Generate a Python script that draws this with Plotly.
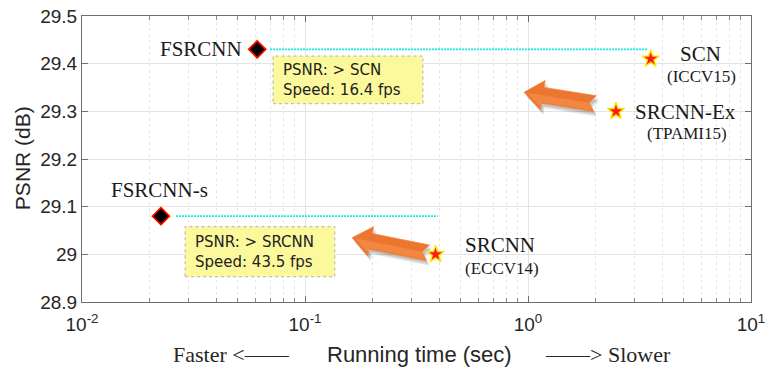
import math
import plotly.graph_objects as go

# ---------------- data ----------------
methods = ["FSRCNN", "SCN", "SRCNN-Ex", "FSRCNN-s", "SRCNN"]
venues = ["", "(ICCV15)", "(TPAMI15)", "", "(ECCV14)"]
run_time = [0.061, 3.55, 2.48, 0.0226, 0.385]
psnr = [29.43, 29.41, 29.30, 29.08, 29.00]
is_ours = [True, False, False, True, False]

# dotted comparison lines (start time, end time, psnr level)
cmp_start = [0.0697, 0.0264]
cmp_end = [3.45, 0.394]
cmp_level = [29.43, 29.08]

# yellow notes
note_text = ["PSNR: > SCN<br>Speed: 16.4 fps", "PSNR: > SRCNN<br>Speed: 43.5 fps"]
note_x0 = [0.0719, 0.0290]
note_x1 = [0.338, 0.136]
note_y0 = [29.316, 28.953]
note_y1 = [29.416, 29.058]

# orange arrows (tail -> tip) in data units
arrow_tail_x = [2.0, 0.356]
arrow_tail_y = [29.316, 29.003]
arrow_tip_x = [0.96, 0.1626]
arrow_tip_y = [29.34, 29.035]

x_ticks = [0.01, 0.1, 1, 10]
x_tick_text = ["10<sup>-2</sup>", "10<sup>-1</sup>", "10<sup>0</sup>", "10<sup>1</sup>"]
x_minor_ticks = [m * 10 ** k for k in (-2, -1, 0) for m in range(2, 10)]
y_ticks = [28.9, 29.0, 29.1, 29.2, 29.3, 29.4, 29.5]
y_tick_text = ["28.9", "29", "29.1", "29.2", "29.3", "29.4", "29.5"]

# ---------------- layout constants ----------------
W, H = 767, 369
ML, MR, MT, MB = 82, 16, 16, 67
PW, PH = W - ML - MR, H - MT - MB
XR = (-2, 1)
YR = (28.9, 29.5)


def to_px(x, y):
    px = ML + (math.log10(x) - XR[0]) / (XR[1] - XR[0]) * PW
    py = MT + (YR[1] - y) / (YR[1] - YR[0]) * PH
    return px, py


def from_px(px, py):
    x = 10 ** (XR[0] + (px - ML) / PW * (XR[1] - XR[0]))
    y = YR[1] - (py - MT) / PH * (YR[1] - YR[0])
    return x, y


def arrow_polygon(tx, ty, hx, hy, dx=0.0, dy=0.0, scale=1.0, upper_only=False):
    p0 = to_px(tx, ty)
    p1 = to_px(hx, hy)
    L = math.hypot(p1[0] - p0[0], p1[1] - p0[1])
    ux, uy = (p1[0] - p0[0]) / L, (p1[1] - p0[1]) / L
    nx, ny = -uy, ux
    h, hw, sw, nd = 19, 15 * scale, 8 * scale, 6
    if upper_only:
        local = [(L - 3, 0), (L - h, -hw + 3), (L - h, -sw + 1), (2, -sw + 1),
                 (nd, 0), (L - 3, 0)]
    else:
        local = [(L, 0), (L - h, hw), (L - h, sw), (0, sw), (nd, 0),
                 (0, -sw), (L - h, -sw), (L - h, -hw), (L, 0)]
    xs, ys = [], []
    for a, b in local:
        px = p0[0] + a * ux + b * nx + dx
        py = p0[1] + a * uy + b * ny + dy
        x, y = from_px(px, py)
        xs.append(x)
        ys.append(y)
    return xs, ys


fig = go.Figure()

# comparison lines
for s, e, lv in zip(cmp_start, cmp_end, cmp_level):
    fig.add_trace(go.Scatter(x=[s, e], y=[lv, lv], mode="lines",
                             line=dict(color="#14E8E0", width=1.7, dash="2px,1px"),
                             hoverinfo="skip", showlegend=False))

# arrows (shadow + body + light highlight)
for tx, ty, hx, hy in zip(arrow_tail_x, arrow_tail_y, arrow_tip_x, arrow_tip_y):
    for off, col in [((3, 5), "rgba(0,0,0,0.10)"), ((2, 3), "rgba(0,0,0,0.15)")]:
        xs, ys = arrow_polygon(tx, ty, hx, hy, *off)
        fig.add_trace(go.Scatter(x=xs, y=ys, mode="lines", fill="toself",
                                 fillcolor=col, line=dict(width=0),
                                 hoverinfo="skip", showlegend=False))
    xs, ys = arrow_polygon(tx, ty, hx, hy)
    fig.add_trace(go.Scatter(x=xs, y=ys, mode="lines", fill="toself",
                             fillcolor="#EC7530", line=dict(width=0.8, color="#F08A45"),
                             hoverinfo="skip", showlegend=False))
    xs, ys = arrow_polygon(tx, ty, hx, hy, upper_only=True)
    fig.add_trace(go.Scatter(x=xs, y=ys, mode="lines", fill="toself",
                             fillcolor="rgba(248,150,80,0.55)", line=dict(width=0),
                             hoverinfo="skip", showlegend=False))

# points
ox = [t for t, o in zip(run_time, is_ours) if o]
oy = [p for p, o in zip(psnr, is_ours) if o]
sx = [t for t, o in zip(run_time, is_ours) if not o]
sy = [p for p, o in zip(psnr, is_ours) if not o]
fig.add_trace(go.Scatter(x=ox, y=oy, mode="markers",
                         marker=dict(symbol="diamond", size=16, color="rgba(255,230,80,0.5)",
                                     line=dict(width=0)),
                         hoverinfo="skip", showlegend=False))
fig.add_trace(go.Scatter(x=ox, y=oy, mode="markers",
                         marker=dict(symbol="diamond", size=13, color="black",
                                     line=dict(color="red", width=1.6)),
                         showlegend=False))
fig.add_trace(go.Scatter(x=sx, y=sy, mode="markers",
                         marker=dict(symbol="star", size=13, color="#FF1A1A",
                                     line=dict(color="#FFE600", width=1.4)),
                         showlegend=False))

shapes = []
annotations = []

# yellow notes
for t, x0, x1, y0, y1 in zip(note_text, note_x0, note_x1, note_y0, note_y1):
    shapes.append(dict(type="rect", xref="x", yref="y", x0=x0, x1=x1, y0=y0, y1=y1,
                       fillcolor="#FCF99C", line=dict(color="#B0B0B0", width=1, dash="dot"),
                       layer="above"))
    annotations.append(dict(x=math.log10(x0), y=(y0 + y1) / 2, xref="x", yref="y",
                            text=t, showarrow=False, xanchor="left", yanchor="middle",
                            xshift=8, align="left",
                            font=dict(family="DejaVu Sans", size=15, color="#222222")))

serif = "Liberation Serif"
# method labels
label_pos = {
    "FSRCNN": dict(xanchor="right", xshift=-13, yshift=0),
    "SCN": dict(xanchor="center", xshift=50, yshift=5),
    "SRCNN-Ex": dict(xanchor="center", xshift=70, yshift=-1),
    "FSRCNN-s": dict(xanchor="center", xshift=-1, yshift=26),
    "SRCNN": dict(xanchor="left", xshift=27, yshift=9),
}
venue_pos = {
    "SCN": dict(xanchor="center", xshift=51, yshift=-18),
    "SRCNN-Ex": dict(xanchor="center", xshift=71, yshift=-22),
    "SRCNN": dict(xanchor="left", xshift=27, yshift=-14),
}
for m, v, t, p in zip(methods, venues, run_time, psnr):
    lp = label_pos[m]
    annotations.append(dict(x=math.log10(t), y=p, xref="x", yref="y", text=m,
                            showarrow=False, yanchor="middle",
                            font=dict(family=serif, size=21, color="#1a1a1a"), **lp))
    if v:
        vp = venue_pos[m]
        annotations.append(dict(x=math.log10(t), y=p, xref="x", yref="y", text=v,
                                showarrow=False, yanchor="middle",
                                font=dict(family=serif, size=17, color="#1a1a1a"), **vp))

# axis titles
annotations.append(dict(x=-0.0897, y=0.503, xref="paper", yref="paper", text="PSNR (dB)",
                        textangle=-90, showarrow=False, xanchor="center", yanchor="middle",
                        font=dict(family="Liberation Sans", size=21, color="#262626")))
annotations.append(dict(x=0.224, y=-0.185, xref="paper", yref="paper", text="Faster <——",
                        showarrow=False, xanchor="center", yanchor="middle",
                        font=dict(family=serif, size=22, color="#262626")))
annotations.append(dict(x=0.504, y=-0.185, xref="paper", yref="paper", text="Running time (sec)",
                        showarrow=False, xanchor="center", yanchor="middle",
                        font=dict(family="Liberation Sans", size=22, color="#262626")))
annotations.append(dict(x=0.786, y=-0.185, xref="paper", yref="paper", text="——> Slower",
                        showarrow=False, xanchor="center", yanchor="middle",
                        font=dict(family=serif, size=22, color="#262626")))

fig.update_layout(
    width=W, height=H,
    margin=dict(l=ML, r=MR, t=MT, b=MB),
    paper_bgcolor="white", plot_bgcolor="white",
    shapes=shapes, annotations=annotations,
    showlegend=False,
)
fig.update_xaxes(type="log", range=list(XR), tickvals=x_ticks, ticktext=x_tick_text,
                 tickfont=dict(family="Liberation Sans", size=19, color="#262626"),
                 automargin=False, ticklabelstandoff=5,
                 showline=True, linecolor="#6E6E6E", linewidth=1, mirror="ticks",
                 ticks="inside", ticklen=6, tickcolor="#6E6E6E",
                 showgrid=True, gridcolor="#E3E3E3", gridwidth=1, zeroline=False,
                 minor=dict(tickvals=x_minor_ticks, ticks="inside", ticklen=4,
                            tickcolor="#8A8A8A", showgrid=True, gridcolor="#E6E6E6",
                            griddash="dot"))
fig.update_yaxes(range=list(YR), tickvals=y_ticks, ticktext=y_tick_text,
                 tickfont=dict(family="Liberation Sans", size=19, color="#262626"),
                 automargin=False,
                 showline=True, linecolor="#6E6E6E", linewidth=1, mirror="ticks",
                 ticks="inside", ticklen=6, tickcolor="#6E6E6E",
                 showgrid=True, gridcolor="#E3E3E3", gridwidth=1, zeroline=False)

fig.write_html("out.html")
